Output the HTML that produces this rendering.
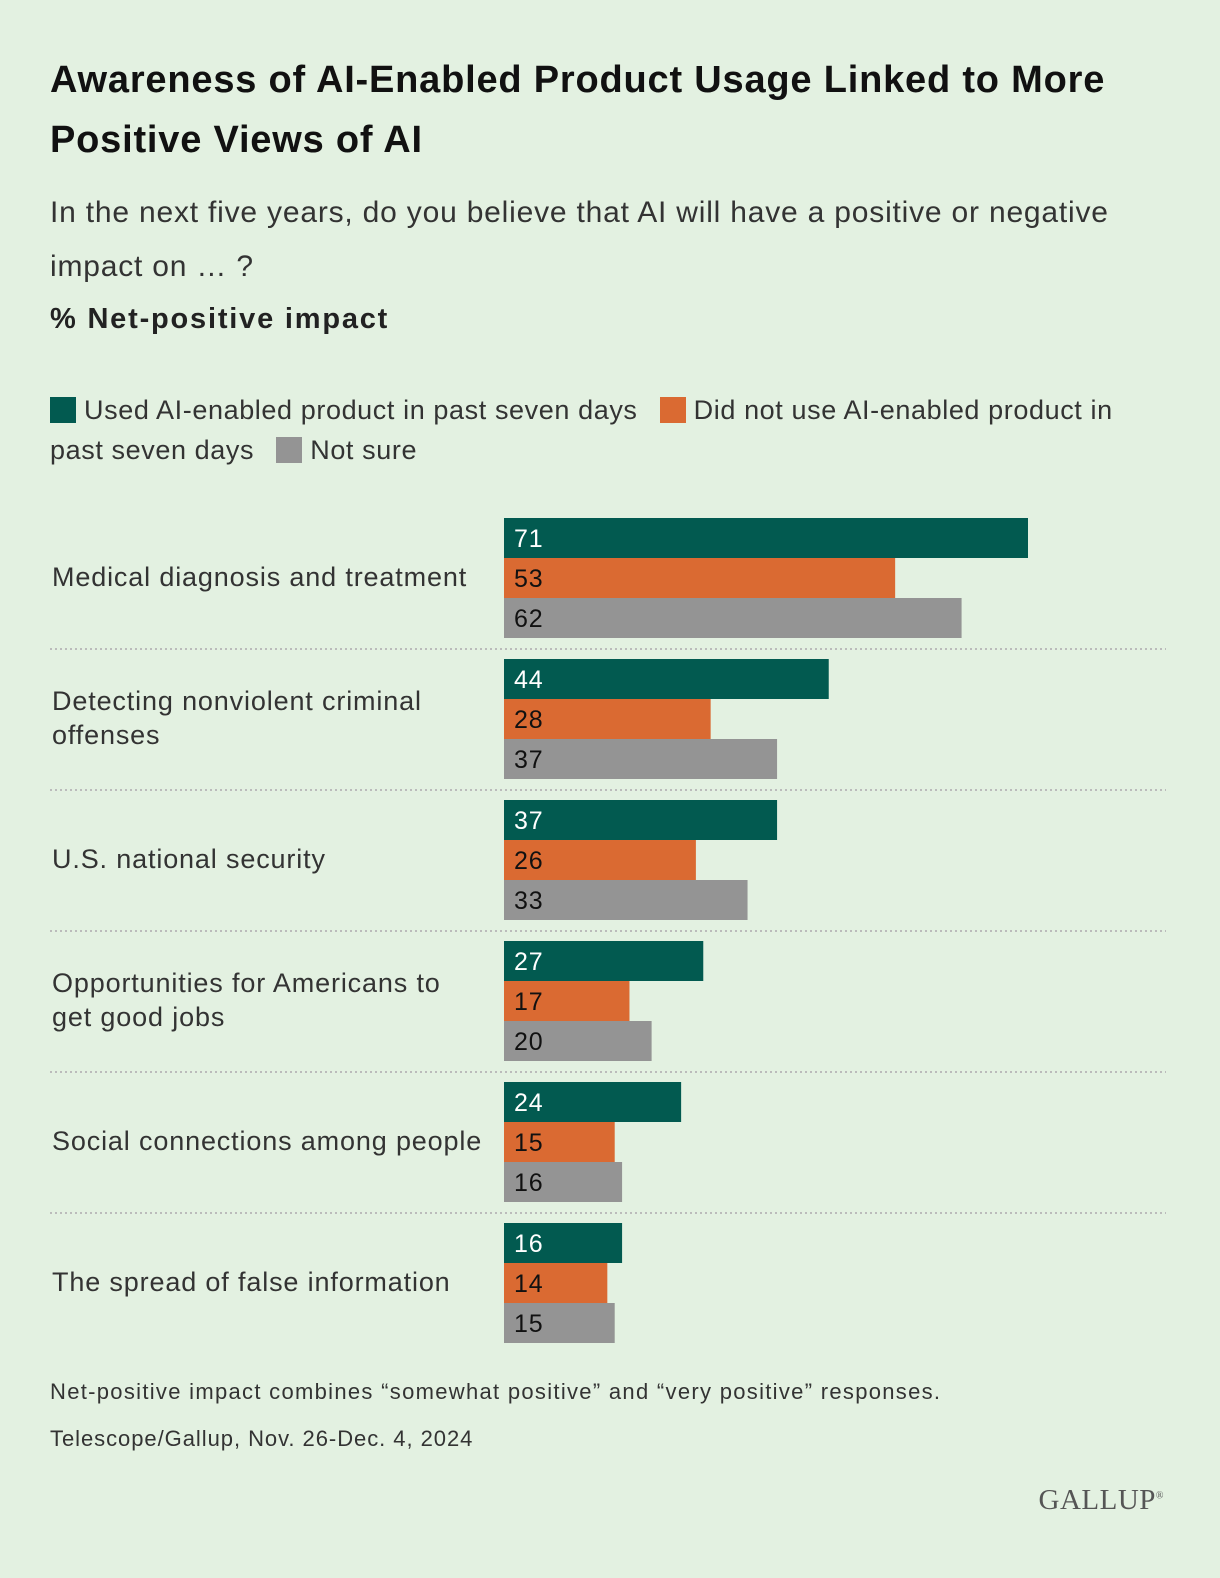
<!DOCTYPE html>
<html><head><meta charset="utf-8">
<style>
body{margin:0;background:#e3f1e1;font-family:"Liberation Sans",sans-serif;color:#222;}
#wrap{position:relative;width:1220px;height:1578px;overflow:hidden;}
.t{position:absolute;white-space:nowrap;}
</style></head><body>
<div id="wrap">
<div class="t" style="left:50px;top:50px;font-size:38px;letter-spacing:0.8px;font-weight:bold;line-height:60px;color:#111;">Awareness of AI-Enabled Product Usage Linked to More<br>Positive Views of AI</div>
<div class="t" style="left:50px;top:186px;font-size:30px;letter-spacing:0.8px;line-height:54px;color:#333;">In the next five years, do you believe that AI will have a positive or negative<br>impact on … ?</div>
<div class="t" style="left:50px;top:303px;font-size:29px;letter-spacing:1.8px;font-weight:bold;color:#222;">% Net-positive impact</div>
<div class="t" style="left:50px;top:390px;font-size:27px;letter-spacing:0.6px;line-height:40px;color:#333;">
<span><span style="display:inline-block;width:26px;height:26px;background:#025a50;vertical-align:-4px;margin-right:8px"></span>Used AI-enabled product in past seven days</span>
<span style="margin-left:14px"><span style="display:inline-block;width:26px;height:26px;background:#da6a32;vertical-align:-4px;margin-right:8px"></span>Did not use AI-enabled product in</span><br>past seven days
<span style="margin-left:14px"><span style="display:inline-block;width:26px;height:26px;background:#949494;vertical-align:-4px;margin-right:8px"></span>Not sure</span>
</div>
<svg id="chart" width="1220" height="1578" style="position:absolute;left:0;top:0"></svg>
<div class="t" style="left:50px;top:1379px;font-size:22px;letter-spacing:1.3px;color:#333;">Net-positive impact combines “somewhat positive” and “very positive” responses.</div>
<div class="t" style="left:50px;top:1426px;font-size:22px;letter-spacing:0.95px;color:#333;">Telescope/Gallup, Nov. 26-Dec. 4, 2024</div>
<div class="t" style="right:56px;top:1484px;font-size:29px;font-family:'Liberation Serif',serif;color:#555;letter-spacing:0.5px;">GALLUP<sup style="font-size:10px">®</sup></div>
</div>
<script>
const categories=["Medical diagnosis and treatment","Detecting nonviolent criminal|offenses","U.S. national security","Opportunities for Americans to|get good jobs","Social connections among people","The spread of false information"];
const usedValues=[71,44,37,27,24,16];
const notUsedValues=[53,28,26,17,15,14];
const notSureValues=[62,37,33,20,16,15];
const series=[usedValues,notUsedValues,notSureValues];
const colors=["#025a50","#da6a32","#949494"];
const textColors=["#fff","#111","#111"];
const names=["used","not-used","not-sure"];
const svg=document.getElementById('chart');
const NS="http://www.w3.org/2000/svg";
const x0=504, scale=524/71, groupTop=518, groupStep=141, barH=40;
const xs=v=>v*scale;
const ys=(g,s)=>groupTop+g*groupStep+s*barH;
categories.forEach((c,g)=>{
  const lines=c.split('|');
  const cy=ys(g,1)+barH/2;
  const t=document.createElementNS(NS,'text');
  
  
  t.setAttribute('x',52);t.setAttribute('font-size','27');t.setAttribute('fill','#333');
  t.setAttribute('letter-spacing','0.85');
  t.setAttribute('font-family','Liberation Sans, sans-serif');
  lines.forEach((l,i)=>{const ts=document.createElementNS(NS,'tspan');ts.setAttribute('x',52);
    ts.setAttribute('y',cy+8+(i-(lines.length-1)/2)*34);ts.textContent=l;t.appendChild(ts);});
  svg.appendChild(t);
  series.forEach((arr,s)=>{
    const r=document.createElementNS(NS,'rect');
    
    
    r.setAttribute('x',x0);r.setAttribute('y',ys(g,s));r.setAttribute('width',xs(arr[g]));r.setAttribute('height',barH);r.setAttribute('fill',colors[s]);
    svg.appendChild(r);
    const v=document.createElementNS(NS,'text');
    
    
    v.setAttribute('x',x0+10);v.setAttribute('y',ys(g,s)+29);v.setAttribute('font-size','25');v.setAttribute('letter-spacing','0.8');v.setAttribute('fill',textColors[s]);
    v.setAttribute('font-family','Liberation Sans, sans-serif');
    v.textContent=arr[g];svg.appendChild(v);
  });
  if(g<categories.length-1){
    const l=document.createElementNS(NS,'line');
    
    
    const y=ys(g,3)+11;
    l.setAttribute('x1',50);l.setAttribute('x2',1166);l.setAttribute('y1',y);l.setAttribute('y2',y);
    l.setAttribute('stroke','#bbb');l.setAttribute('stroke-width','2');l.setAttribute('stroke-dasharray','2 3');
    svg.appendChild(l);
  }
});
</script>
</body></html>
